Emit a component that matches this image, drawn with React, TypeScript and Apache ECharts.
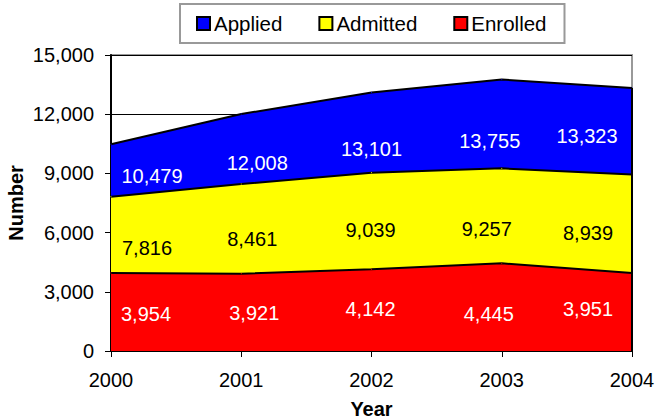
import React, { useEffect, useRef } from "react";
import * as echarts from "echarts";

const years = ["2000", "2001", "2002", "2003", "2004"];
const applied = [10479, 12008, 13101, 13755, 13323];
const admitted = [7816, 8461, 9039, 9257, 8939];
const enrolled = [3954, 3921, 4142, 4445, 3951];
const yTicks = { min: 0, max: 15000, interval: 3000 };

// label placement tweaks (pixels), per point
const appliedLabelOffset = [[41, 32], [16, 49], [0, 57], [-12, 61], [-45, 48]];
const admittedLabelOffset = [[36, 51], [11, 55], [-1, 57], [-15, 61], [-44, 58]];
const enrolledLabelOffset = [[35, 41], [13, 39], [-1, 40], [-13, 51], [-44, 36]];

const FONT = "'Liberation Sans', Arial, sans-serif";
const FS = 20;
const fmt = (v: number) => v.toLocaleString("en-US");

function makeSeries(name: string, values: number[], offsets: number[][], fill: string, labelColor: string, extra: any = {}) {
  return {
    name,
    type: "line",
    data: values.map((v, i) => ({
      value: v,
      label: { offset: offsets[i] },
    })),
    symbol: "circle",
    symbolSize: 1,
    showSymbol: true,
    itemStyle: { color: fill },
    lineStyle: { color: "#000", width: 2 },
    areaStyle: { color: fill, opacity: 1 },
    label: {
      show: true,
      position: "inside",
      color: labelColor,
      fontSize: FS,
      fontFamily: FONT,
      formatter: (p: any) => fmt(p.value),
    },
    emphasis: { disabled: true },
    ...extra,
  };
}

export default function App() {
  const ref = useRef<HTMLDivElement>(null);
  useEffect(() => {
    if (!ref.current) return;
    const chart = echarts.init(ref.current, undefined, { renderer: "svg" });
    const last = years.length - 1;
    chart.setOption({
      animation: false,
      backgroundColor: "#fff",
      textStyle: { fontFamily: FONT },
      legend: {
        left: 180,
        top: 4,
        padding: [9, 18, 9, 16],
        borderColor: "#999",
        borderWidth: 2,
        icon: "rect",
        itemWidth: 13,
        itemHeight: 13,
        itemGap: 36,
        itemStyle: { borderColor: "#000", borderWidth: 2 },
        textStyle: { fontSize: 20.5, color: "#000", fontFamily: FONT, padding: [0, 0, 0, -1] },
        data: ["Applied", "Admitted", "Enrolled"],
      },
      grid: {
        left: 111,
        right: 25,
        top: 55,
        bottom: 68,
        outerBoundsMode: "none",
        containLabel: false,
        show: true,
        borderColor: "#999",
        borderWidth: 2,
        backgroundColor: "#fff",
      },
      xAxis: {
        type: "category",
        data: years,
        boundaryGap: false,
        name: "Year",
        nameLocation: "middle",
        nameGap: 48,
        nameMoveOverlap: false,
        nameTextStyle: { fontSize: FS, fontWeight: "bold", color: "#000", fontFamily: FONT },
        axisLine: { lineStyle: { color: "#000", width: 2 } },
        axisTick: { show: true, length: 6, lineStyle: { color: "#000" } },
        axisLabel: { fontSize: FS, color: "#000", margin: 19, fontFamily: FONT },
        splitLine: { show: false },
      },
      yAxis: {
        type: "value",
        min: yTicks.min,
        max: yTicks.max,
        interval: yTicks.interval,
        name: "Number",
        nameLocation: "middle",
        nameGap: 85,
        nameMoveOverlap: false,
        nameTextStyle: { fontSize: FS, fontWeight: "bold", color: "#000", fontFamily: FONT },
        axisLine: { show: true, lineStyle: { color: "#000", width: 2 } },
        axisTick: { show: true, length: 6, lineStyle: { color: "#000" } },
        axisLabel: { fontSize: FS, color: "#000", margin: 17, fontFamily: FONT, formatter: (v: number) => fmt(v) },
        splitLine: { show: true, lineStyle: { color: "#000", width: 1 } },
      },
      series: [
        makeSeries("Applied", applied, appliedLabelOffset, "#0000ff", "#fff"),
        makeSeries("Admitted", admitted, admittedLabelOffset, "#ffff00", "#000"),
        makeSeries("Enrolled", enrolled, enrolledLabelOffset, "#ff0000", "#fff", {
          markLine: {
            silent: true,
            symbol: "none",
            label: { show: false },
            lineStyle: { color: "#000", width: 2, type: "solid" },
            data: [[{ coord: [last, 0] }, { coord: [last, applied[last]] }]],
          },
        }),
      ],
    });
    return () => chart.dispose();
  }, []);
  return <div ref={ref} style={{ position: "fixed", left: 0, top: 0, width: 657, height: 419 }} />;
}
